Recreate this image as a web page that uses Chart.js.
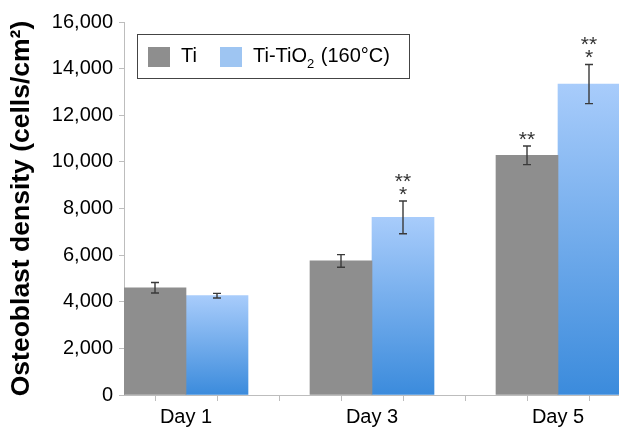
<!DOCTYPE html>
<html><head><meta charset="utf-8">
<script src="https://cdn.jsdelivr.net/npm/chart.js@4"></script>
<style>html,body{margin:0;padding:0;background:#fff}#wrap{width:619px;height:428px;position:relative}</style>
</head><body><div id="wrap"><canvas id="c" width="619" height="428"></canvas></div>
<script>
const categories = ['Day 1', 'Day 3', 'Day 5'];
const seriesNames = ['Ti', 'Ti-TiO₂ (160°C)'];
const tiValues = [4600, 5750, 10280];
const tiErrors = [225, 270, 400];
const tio2Values = [4260, 7620, 13340];
const tio2Errors = [100, 700, 840];
const tiMarks = [[], [], ['**']];
const tio2Marks = [[], ['**', '*'], ['**', '*']];
const yMin = 0, yMax = 16000, yStep = 2000;
const axisTitle = 'Osteoblast density (cells/cm²)';

const FONT = '"Liberation Sans", Arial, sans-serif';
const GRAY = '#8e8e8e';
const BLUE_TOP = '#a8ccfb', BLUE_BOTTOM = '#3b8bdc', BLUE_SWATCH = '#9ec5f2';
const AXIS = '#bdbdbd';

function blueFill(ctx) {
  const chart = ctx.chart;
  if (ctx.type !== 'data' || !chart.chartArea || !chart.scales.y) return BLUE_SWATCH;
  const y = chart.scales.y;
  const top = y.getPixelForValue(ctx.parsed ? ctx.parsed.y : ctx.raw.y);
  const base = y.getPixelForValue(0);
  if (!isFinite(top) || !isFinite(base) || base - top < 1) return BLUE_SWATCH;
  const g = chart.ctx.createLinearGradient(0, top, 0, base);
  g.addColorStop(0, BLUE_TOP);
  g.addColorStop(1, BLUE_BOTTOM);
  return g;
}

const errors = [tiErrors, tio2Errors];
const marks = [tiMarks, tio2Marks];

const extrasPlugin = {
  id: 'extras',
  afterDatasetsDraw(chart) {
    const c = chart.ctx, y = chart.scales.y;
    c.save();
    chart.data.datasets.forEach((ds, d) => {
      const meta = chart.getDatasetMeta(d);
      meta.data.forEach((bar, i) => {
        const v = ds.data[i].y, e = errors[d][i];
        const x = bar.x;
        const yt = y.getPixelForValue(v + e), yb = y.getPixelForValue(v - e);
        c.strokeStyle = '#3a3a3a';
        c.lineWidth = 1.4;
        c.beginPath();
        c.moveTo(x, yt); c.lineTo(x, yb);
        c.moveTo(x - 4, yt); c.lineTo(x + 4, yt);
        c.moveTo(x - 4, yb); c.lineTo(x + 4, yb);
        c.stroke();
        const lines = marks[d][i];
        c.fillStyle = '#333';
        c.font = '21px ' + FONT;
        c.textAlign = 'center';
        c.textBaseline = 'alphabetic';
        for (let k = lines.length - 1, n = 0; k >= 0; k--, n++) {
          const cy = yt - 10.5 - 13 * n;
          const m = c.measureText(lines[k]);
          const base = cy + (m.actualBoundingBoxAscent - m.actualBoundingBoxDescent) / 2;
          c.fillText(lines[k], x, base);
        }
      });
    });
    c.restore();
  },
  afterDraw(chart) {
    const c = chart.ctx;
    c.save();
    c.fillStyle = '#fff';
    c.fillRect(137.5, 34.5, 272, 44);
    c.strokeStyle = '#444';
    c.lineWidth = 1;
    c.strokeRect(137.5, 34.5, 272, 44);
    const items = [
      { x: 148, color: GRAY, label: chart.data.datasets[0].label },
      { x: 220, color: BLUE_SWATCH, label: chart.data.datasets[1].label }
    ];
    c.textBaseline = 'alphabetic';
    c.textAlign = 'left';
    items.forEach(it => {
      c.fillStyle = it.color;
      c.fillRect(it.x, 47, 22, 20);
      c.fillStyle = '#000';
      let tx = it.x + 33;
      const parts = it.label.split('₂');
      parts.forEach((p, idx) => {
        c.font = '20px ' + FONT;
        c.fillText(p, tx, 62);
        tx += c.measureText(p).width;
        if (idx < parts.length - 1) {
          c.font = '13px ' + FONT;
          c.fillText('2', tx, 68);
          tx += c.measureText('2').width + 1;
        }
      });
    });
    c.restore();
  }
};

const xTickValues = [-1/3, 0, 1/3, 2/3, 1, 4/3, 5/3, 2];

new Chart(document.getElementById('c'), {
  type: 'bar',
  data: {
    datasets: [
      { label: seriesNames[0], data: categories.map((c, i) => ({ x: i, y: tiValues[i] })), backgroundColor: GRAY, borderWidth: 0 },
      { label: seriesNames[1], data: categories.map((c, i) => ({ x: i, y: tio2Values[i] })), backgroundColor: blueFill, borderWidth: 0 }
    ]
  },
  options: {
    responsive: false,
    devicePixelRatio: 1,
    animation: false,
    events: [],
    barThickness: 62,
    layout: { padding: { top: 22, right: 0, left: 0, bottom: 0 } },
    plugins: { legend: { display: false }, tooltip: { enabled: false } },
    scales: {
      x: {
        type: 'linear',
        min: -1/3,
        max: -1/3 + 495/186,
        offset: false,
        afterBuildTicks(scale) { scale.ticks = xTickValues.map(v => ({ value: v })); },
        afterFit(scale) { scale.height = 33; },
        grid: { display: true, drawOnChartArea: false, drawTicks: true, tickLength: 6, color: AXIS },
        border: { display: true, color: AXIS, width: 1 },
        ticks: {
          autoSkip: false, maxRotation: 0, minRotation: 0, padding: 4,
          color: '#000', font: { family: FONT, size: 20 },
          callback(value) {
            const i = Math.round(value);
            return Math.abs(value - i) < 1e-6 && categories[i] ? categories[i] : '';
          }
        }
      },
      y: {
        min: yMin, max: yMax,
        afterFit(scale) { scale.width = 124; },
        grid: { display: true, drawOnChartArea: false, drawTicks: true, tickLength: 5, color: AXIS },
        border: { display: true, color: AXIS, width: 1 },
        ticks: {
          stepSize: yStep, padding: 6, color: '#000',
          font: { family: FONT, size: 20 },
          callback: v => Number(v).toLocaleString('en-US')
        },
        title: {
          display: true, text: axisTitle, color: '#000',
          font: { family: FONT, size: 26.5, weight: 'bold' },
          padding: { top: 6, bottom: 0 }
        }
      }
    }
  },
  plugins: [extrasPlugin]
});
</script>
</body></html>
